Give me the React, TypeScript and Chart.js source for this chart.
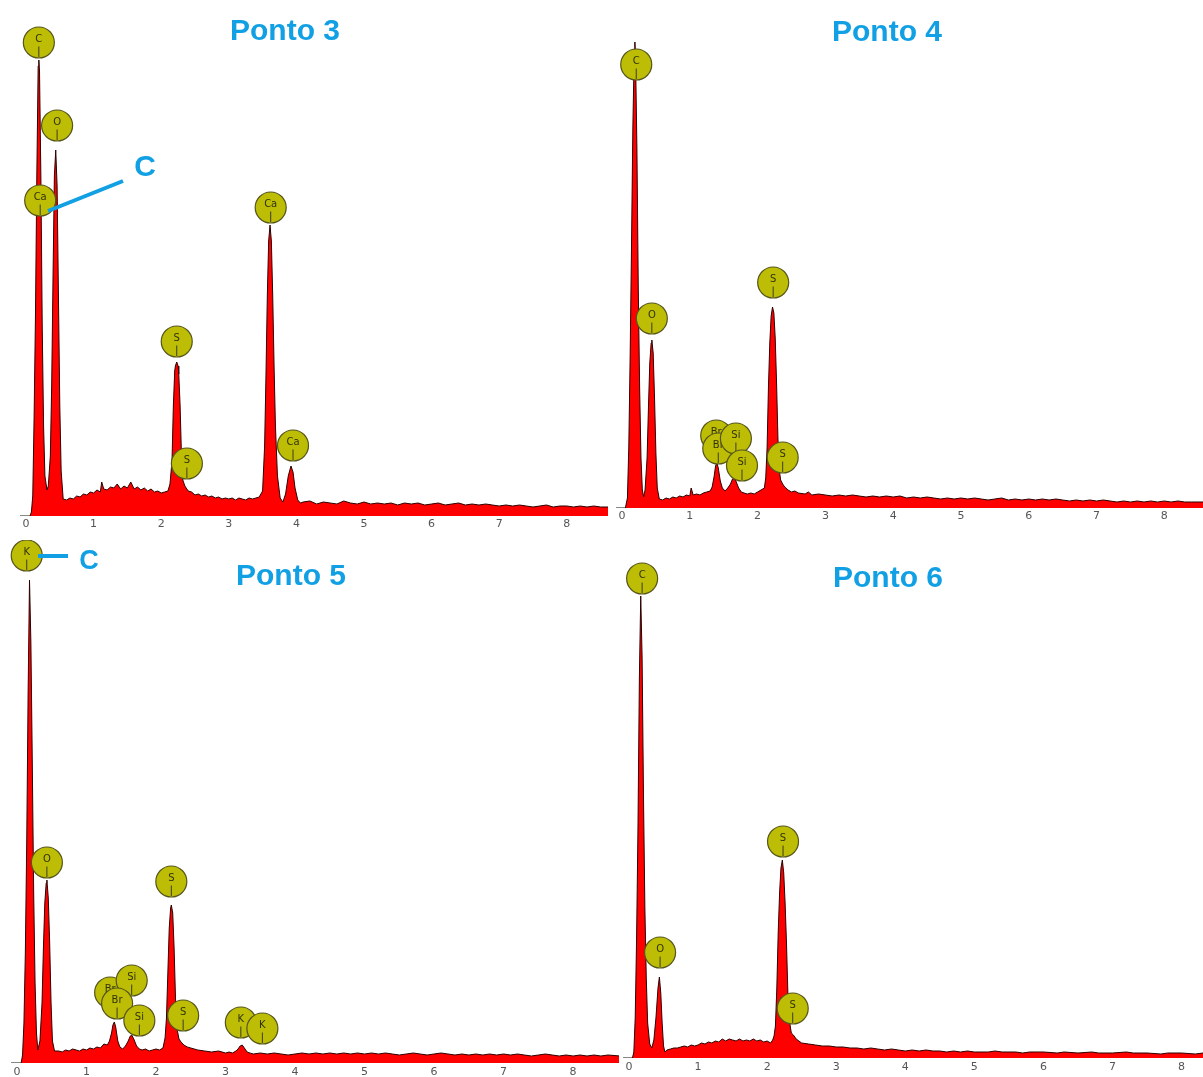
import React, { useEffect, useRef } from "react";
import { Chart, registerables } from "chart.js";

Chart.register(...registerables);

type Pair = [number, number];
type Marker = [string, number, number];

// ---------- data (energy keV, counts) ----------
const energyTicks = [0, 1, 2, 3, 4, 5, 6, 7, 8];
const panelTitles = ["Ponto 3", "Ponto 4", "Ponto 5", "Ponto 6"];
const calloutLabel = "C";

const ponto3Spectrum: Pair[] = [
  [0, 0], [0.06, 0], [0.08, 4], [0.1, 20], [0.12, 100], [0.14, 200], [0.16, 340], [0.18, 450], [0.19, 456], [0.2, 445],
  [0.22, 340], [0.24, 190], [0.26, 90], [0.28, 40], [0.31, 26], [0.33, 30], [0.36, 60], [0.38, 130], [0.4, 240], [0.42, 340],
  [0.44, 366], [0.46, 330], [0.48, 220], [0.5, 110], [0.52, 45], [0.55, 17],
  [0.6, 16], [0.65, 18], [0.7, 17], [0.75, 20], [0.8, 19], [0.85, 22], [0.9, 21], [0.95, 24], [1.0, 23], [1.05, 26],
  [1.1, 24], [1.12, 34], [1.15, 27], [1.2, 26], [1.25, 29], [1.3, 28], [1.35, 32], [1.4, 27], [1.45, 30], [1.5, 28],
  [1.55, 34], [1.6, 27], [1.65, 29], [1.7, 26], [1.75, 28], [1.8, 25], [1.85, 27], [1.9, 24], [1.95, 25], [2.0, 23],
  [2.05, 24], [2.1, 25], [2.13, 32], [2.16, 55], [2.18, 110], [2.2, 145], [2.21, 150], [2.23, 154], [2.25, 150], [2.26, 142],
  [2.28, 110], [2.3, 60], [2.32, 36], [2.35, 30], [2.4, 25], [2.45, 24], [2.5, 21], [2.55, 22], [2.6, 20], [2.65, 21],
  [2.7, 19], [2.75, 20], [2.8, 18], [2.85, 19], [2.9, 17], [2.95, 18], [3.0, 17], [3.05, 18], [3.1, 16], [3.15, 18],
  [3.2, 17], [3.25, 16], [3.3, 18], [3.35, 17], [3.4, 18], [3.45, 19], [3.5, 25], [3.53, 70], [3.55, 140], [3.57, 220],
  [3.59, 275], [3.61, 291], [3.63, 275], [3.65, 220], [3.67, 150], [3.69, 90], [3.72, 40], [3.76, 18], [3.8, 14], [3.84, 22],
  [3.88, 40], [3.92, 50], [3.95, 44], [3.98, 28], [4.02, 16], [4.06, 13], [4.1, 14], [4.2, 15], [4.3, 12], [4.4, 14],
  [4.5, 13], [4.6, 12], [4.7, 15], [4.8, 13], [4.9, 12], [5.0, 14], [5.1, 12], [5.2, 13], [5.3, 12], [5.4, 13],
  [5.5, 11], [5.6, 13], [5.7, 12], [5.8, 13], [5.9, 11], [6.0, 12], [6.1, 13], [6.2, 11], [6.3, 12], [6.4, 13],
  [6.5, 11], [6.6, 12], [6.7, 11], [6.8, 12], [6.9, 11], [7.0, 10], [7.1, 11], [7.2, 10], [7.3, 11], [7.4, 10],
  [7.5, 9], [7.6, 10], [7.7, 11], [7.8, 9], [7.9, 10], [8.0, 10], [8.1, 9], [8.2, 10], [8.3, 9], [8.4, 10],
  [8.5, 9], [8.61, 9],
];
const ponto3Markers: Marker[] = [
  ["C", 0.19, 458], ["O", 0.46, 375], ["Ca", 0.21, 300], ["Ca", 3.62, 293],
  ["S", 2.23, 159], ["S", 2.38, 37], ["Ca", 3.95, 55],
];

const ponto4Spectrum: Pair[] = [
  [0, 0], [0.05, 0], [0.08, 10], [0.1, 60], [0.12, 150], [0.14, 260], [0.16, 380], [0.18, 455], [0.19, 466], [0.2, 450],
  [0.22, 360], [0.24, 220], [0.26, 120], [0.28, 50], [0.3, 18], [0.32, 11], [0.34, 18], [0.37, 50], [0.39, 100], [0.41, 145],
  [0.43, 165], [0.44, 168], [0.46, 155], [0.48, 110], [0.5, 55], [0.52, 20], [0.55, 9],
  [0.6, 8], [0.65, 10], [0.7, 9], [0.75, 11], [0.8, 10], [0.85, 12], [0.9, 11], [0.95, 13], [1.0, 12], [1.02, 20],
  [1.05, 13], [1.1, 14], [1.15, 13], [1.2, 15], [1.25, 16], [1.3, 17], [1.33, 21], [1.36, 32], [1.38, 42], [1.4, 45],
  [1.42, 40], [1.45, 27], [1.48, 20], [1.52, 17], [1.56, 20], [1.6, 24], [1.63, 29], [1.65, 30], [1.68, 27], [1.72, 20],
  [1.76, 16], [1.8, 15], [1.85, 14], [1.9, 15], [1.95, 14], [2.0, 16], [2.05, 18], [2.1, 20], [2.12, 30], [2.14, 60],
  [2.16, 120], [2.18, 165], [2.2, 192], [2.22, 201], [2.24, 195], [2.26, 170], [2.28, 125], [2.3, 70], [2.32, 38], [2.34, 28],
  [2.37, 24], [2.4, 21], [2.45, 18], [2.5, 16], [2.55, 17], [2.6, 15], [2.7, 14], [2.75, 16], [2.8, 13], [2.9, 14],
  [3.0, 13], [3.1, 12], [3.2, 13], [3.3, 12], [3.4, 13], [3.5, 12], [3.6, 11], [3.7, 12], [3.8, 11], [3.9, 12],
  [4.0, 11], [4.1, 12], [4.2, 10], [4.3, 11], [4.4, 10], [4.5, 11], [4.6, 10], [4.7, 9], [4.8, 10], [4.9, 9],
  [5.0, 10], [5.1, 9], [5.2, 10], [5.3, 9], [5.4, 8], [5.5, 9], [5.6, 10], [5.7, 8], [5.8, 9], [5.9, 8],
  [6.0, 9], [6.1, 8], [6.2, 9], [6.3, 8], [6.4, 9], [6.5, 8], [6.6, 7], [6.7, 8], [6.8, 7], [6.9, 8],
  [7.0, 7], [7.1, 8], [7.2, 7], [7.3, 6], [7.4, 7], [7.5, 6], [7.6, 7], [7.7, 6], [7.8, 7], [7.9, 6],
  [8.0, 7], [8.1, 6], [8.2, 7], [8.3, 6], [8.4, 6], [8.57, 6],
];
const ponto4Markers: Marker[] = [
  ["C", 0.21, 428], ["O", 0.44, 174], ["S", 2.23, 210],
  ["Br", 1.39, 57], ["Br", 1.42, 44], ["Si", 1.68, 54], ["Si", 1.77, 27], ["S", 2.37, 35],
];

const ponto5Spectrum: Pair[] = [
  [0, 0], [0.06, 0], [0.08, 8], [0.1, 40], [0.12, 110], [0.14, 220], [0.16, 370], [0.18, 483], [0.2, 420], [0.22, 300],
  [0.24, 170], [0.26, 80], [0.28, 30], [0.3, 13], [0.33, 22], [0.36, 60], [0.38, 115], [0.4, 160], [0.42, 180], [0.43, 183],
  [0.45, 165], [0.47, 120], [0.49, 60], [0.51, 22], [0.54, 12],
  [0.6, 12], [0.65, 11], [0.7, 13], [0.75, 12], [0.8, 14], [0.85, 13], [0.9, 12], [0.95, 14], [1.0, 13], [1.05, 15],
  [1.1, 14], [1.15, 16], [1.2, 15], [1.25, 19], [1.3, 18], [1.33, 22], [1.36, 30], [1.38, 38], [1.4, 41], [1.42, 36],
  [1.45, 22], [1.48, 16], [1.52, 14], [1.56, 17], [1.6, 22], [1.63, 27], [1.65, 28], [1.68, 24], [1.72, 17], [1.76, 14],
  [1.8, 13], [1.85, 14], [1.9, 12], [1.95, 13], [2.0, 14], [2.05, 13], [2.1, 15], [2.13, 25], [2.15, 45], [2.17, 90],
  [2.19, 135], [2.21, 155], [2.22, 158], [2.24, 150], [2.26, 115], [2.28, 65], [2.3, 35], [2.33, 24], [2.36, 21], [2.4, 18],
  [2.45, 16], [2.5, 15], [2.6, 13], [2.7, 12], [2.8, 11], [2.9, 12], [3.0, 10], [3.05, 11], [3.1, 10], [3.15, 12],
  [3.18, 14], [3.21, 17], [3.24, 18], [3.27, 15], [3.31, 11], [3.35, 10], [3.4, 9], [3.5, 10], [3.6, 9], [3.7, 10],
  [3.8, 9], [3.9, 8], [4.0, 9], [4.1, 10], [4.2, 9], [4.3, 10], [4.4, 9], [4.5, 10], [4.6, 9], [4.7, 10],
  [4.8, 9], [4.9, 10], [5.0, 9], [5.1, 10], [5.2, 9], [5.3, 10], [5.4, 9], [5.5, 8], [5.6, 9], [5.7, 10],
  [5.8, 9], [5.9, 8], [6.0, 9], [6.1, 10], [6.2, 9], [6.3, 8], [6.4, 9], [6.5, 8], [6.6, 9], [6.7, 8],
  [6.8, 9], [6.9, 8], [7.0, 9], [7.1, 8], [7.2, 9], [7.3, 8], [7.4, 7], [7.5, 8], [7.6, 9], [7.7, 8],
  [7.8, 7], [7.9, 8], [8.0, 7], [8.1, 8], [8.2, 7], [8.3, 8], [8.4, 7], [8.5, 8], [8.68, 7],
];
const ponto5Markers: Marker[] = [
  ["K", 0.14, 492], ["O", 0.43, 185], ["S", 2.22, 166],
  ["Br", 1.34, 55], ["Si", 1.65, 67], ["Br", 1.44, 44], ["Si", 1.76, 27],
  ["S", 2.39, 32], ["K", 3.22, 25], ["K", 3.53, 19],
];

const ponto6Spectrum: Pair[] = [
  [0, 0], [0.05, 0], [0.07, 6], [0.09, 40], [0.11, 120], [0.13, 230], [0.15, 380], [0.17, 462], [0.19, 400], [0.21, 260],
  [0.23, 150], [0.25, 80], [0.27, 35], [0.3, 14], [0.33, 10], [0.36, 18], [0.39, 40], [0.42, 70], [0.44, 81], [0.46, 65],
  [0.48, 35], [0.5, 12], [0.52, 6], [0.55, 8],
  [0.6, 9], [0.65, 10], [0.7, 10], [0.75, 11], [0.8, 12], [0.85, 11], [0.9, 13], [0.95, 12], [1.0, 13], [1.05, 15],
  [1.1, 14], [1.15, 16], [1.2, 15], [1.25, 17], [1.3, 16], [1.35, 19], [1.4, 17], [1.45, 19], [1.5, 18], [1.55, 17],
  [1.6, 19], [1.65, 17], [1.7, 18], [1.75, 17], [1.8, 19], [1.85, 17], [1.9, 18], [1.95, 16], [2.0, 17], [2.05, 15],
  [2.08, 18], [2.1, 22], [2.12, 32], [2.14, 70], [2.16, 125], [2.18, 165], [2.2, 190], [2.22, 198], [2.24, 185], [2.26, 155],
  [2.28, 115], [2.3, 65], [2.32, 38], [2.35, 25], [2.38, 23], [2.42, 19], [2.46, 17], [2.5, 15], [2.6, 14], [2.7, 13],
  [2.8, 12], [2.9, 12], [3.0, 11], [3.1, 11], [3.2, 10], [3.3, 10], [3.4, 9], [3.5, 10], [3.6, 9], [3.7, 8],
  [3.8, 9], [3.9, 8], [4.0, 7], [4.1, 8], [4.2, 7], [4.3, 8], [4.4, 7], [4.5, 7], [4.6, 6], [4.7, 7],
  [4.8, 6], [4.9, 7], [5.0, 6], [5.2, 6], [5.3, 7], [5.4, 6], [5.6, 6], [5.7, 5], [5.8, 6], [6.0, 6],
  [6.2, 5], [6.3, 6], [6.5, 5], [6.7, 6], [6.8, 5], [7.0, 5], [7.2, 6], [7.3, 5], [7.5, 5], [7.7, 4],
  [7.8, 5], [8.0, 5], [8.2, 4], [8.31, 5],
];
const ponto6Markers: Marker[] = [
  ["C", 0.19, 464], ["O", 0.45, 90], ["S", 2.23, 201], ["S", 2.37, 34],
];

// ---------- layout / style ----------
const BLUE = "#12a0e4";

interface Layout {
  left: number; top: number; width: number; height: number;
  padLeft: number; padRight: number; xMax: number; yMax: number; tickPad: number;
  titleX: number; titleY: number;
  callout?: { x1: number; y1: number; x2: number; y2: number; tx: number; ty: number; size: number };
}

const layouts: Layout[] = [
  { left: 0, top: 0, width: 612, height: 530, padLeft: 26, padRight: 4, xMax: 8.61, yMax: 516, tickPad: 2,
    titleX: 285, titleY: 40, callout: { x1: 48, y1: 211, x2: 123, y2: 181, tx: 145, ty: 168, size: 30 } },
  { left: 610, top: 0, width: 593, height: 522, padLeft: 12, padRight: 0, xMax: 8.57, yMax: 508, tickPad: 2,
    titleX: 277, titleY: 41 },
  { left: 0, top: 540, width: 622, height: 537, padLeft: 17, padRight: 3, xMax: 8.66, yMax: 523, tickPad: 3,
    titleX: 291, titleY: 45, callout: { x1: 38, y1: 16, x2: 68, y2: 16, tx: 89, ty: 22, size: 27 } },
  { left: 610, top: 540, width: 593, height: 532, padLeft: 19, padRight: 0, xMax: 8.31, yMax: 518, tickPad: 3,
    titleX: 278, titleY: 47 },
];

const spectra = [ponto3Spectrum, ponto4Spectrum, ponto5Spectrum, ponto6Spectrum];
const markerSets = [ponto3Markers, ponto4Markers, ponto5Markers, ponto6Markers];

function SpectrumPanel({ layout, spectrum, markers, title }: { layout: Layout; spectrum: Pair[]; markers: Marker[]; title: string }) {
  const ref = useRef<HTMLCanvasElement>(null);

  useEffect(() => {
    const canvas = ref.current;
    if (!canvas) return;

    const overlay = {
      id: "edsOverlay",
      afterDraw(chart: any) {
        const ctx: CanvasRenderingContext2D = chart.ctx;
        const xs = chart.scales.x;
        const ys = chart.scales.y;
        ctx.save();

        // short grey axis stub left of origin
        const x0 = xs.getPixelForValue(0);
        const yBase = ys.getPixelForValue(0);
        ctx.beginPath();
        ctx.moveTo(x0 - 6, yBase - 0.5);
        ctx.lineTo(x0 + 3, yBase - 0.5);
        ctx.strokeStyle = "#888";
        ctx.lineWidth = 1;
        ctx.stroke();

        const r = 15.5;
        markers.forEach(([el, e, c]) => {
          const x = xs.getPixelForValue(e);
          const yb = ys.getPixelForValue(c);
          const cy = yb - r;
          ctx.beginPath();
          ctx.arc(x, cy, r, 0, Math.PI * 2);
          ctx.fillStyle = "#bdbd06";
          ctx.fill();
          ctx.lineWidth = 1.2;
          ctx.strokeStyle = "#55551c";
          ctx.stroke();
          ctx.beginPath();
          ctx.moveTo(x, cy + 4);
          ctx.lineTo(x, yb - 1);
          ctx.lineWidth = 1;
          ctx.strokeStyle = "#3d3d20";
          ctx.stroke();
          ctx.fillStyle = "#33330a";
          ctx.font = "10px 'DejaVu Sans', sans-serif";
          ctx.textAlign = "center";
          ctx.textBaseline = "middle";
          ctx.fillText(el, x, cy - 3);
        });

        const co = layout.callout;
        if (co) {
          ctx.beginPath();
          ctx.moveTo(co.x1, co.y1);
          ctx.lineTo(co.x2, co.y2);
          ctx.strokeStyle = BLUE;
          ctx.lineWidth = 4;
          ctx.stroke();
          ctx.fillStyle = BLUE;
          ctx.font = `bold ${co.size}px 'Liberation Sans', Arial, sans-serif`;
          ctx.textAlign = "center";
          ctx.textBaseline = "middle";
          ctx.fillText(calloutLabel, co.tx, co.ty);
        }

        ctx.fillStyle = BLUE;
        ctx.font = "bold 30px 'Liberation Sans', Arial, sans-serif";
        ctx.textAlign = "center";
        ctx.textBaseline = "alphabetic";
        ctx.fillText(title, layout.titleX, layout.titleY);
        ctx.restore();
      },
    };

    const chart = new Chart(canvas, {
      type: "line",
      data: {
        datasets: [
          {
            data: spectrum.map(([x, y]) => ({ x, y })),
            borderColor: "#2b0000",
            borderWidth: 1,
            backgroundColor: "#ff0000",
            fill: "origin",
            pointRadius: 0,
            tension: 0,
          },
        ],
      },
      options: {
        animation: false,
        responsive: false,
        devicePixelRatio: 1,
        layout: { padding: { left: layout.padLeft, right: layout.padRight, top: 0, bottom: 0 } },
        plugins: { legend: { display: false }, tooltip: { enabled: false }, title: { display: false } },
        scales: {
          x: {
            type: "linear",
            min: 0,
            max: layout.xMax,
            grid: { display: false, drawTicks: false },
            border: { display: false },
            ticks: {
              padding: layout.tickPad,
              color: "#555",
              font: { family: "'DejaVu Sans', sans-serif", size: 11 },
              maxRotation: 0,
              autoSkip: false,
            },
            afterBuildTicks: (s: any) => {
              s.ticks = energyTicks.filter((v) => v <= layout.xMax).map((v) => ({ value: v }));
            },
            afterFit: (s: any) => {
              s.height = 14;
            },
          },
          y: { display: false, min: 0, max: layout.yMax },
        },
      },
      plugins: [overlay],
    } as any);

    return () => chart.destroy();
  }, []);

  return (
    <canvas
      ref={ref}
      width={layout.width}
      height={layout.height}
      style={{ position: "absolute", left: layout.left, top: layout.top, width: layout.width, height: layout.height }}
    />
  );
}

export default function App() {
  return (
    <div style={{ position: "absolute", left: 0, top: 0, width: 1203, height: 1077, overflow: "hidden", background: "#fff" }}>
      {layouts.map((l, i) => (
        <SpectrumPanel key={i} layout={l} spectrum={spectra[i]} markers={markerSets[i]} title={panelTitles[i]} />
      ))}
    </div>
  );
}
